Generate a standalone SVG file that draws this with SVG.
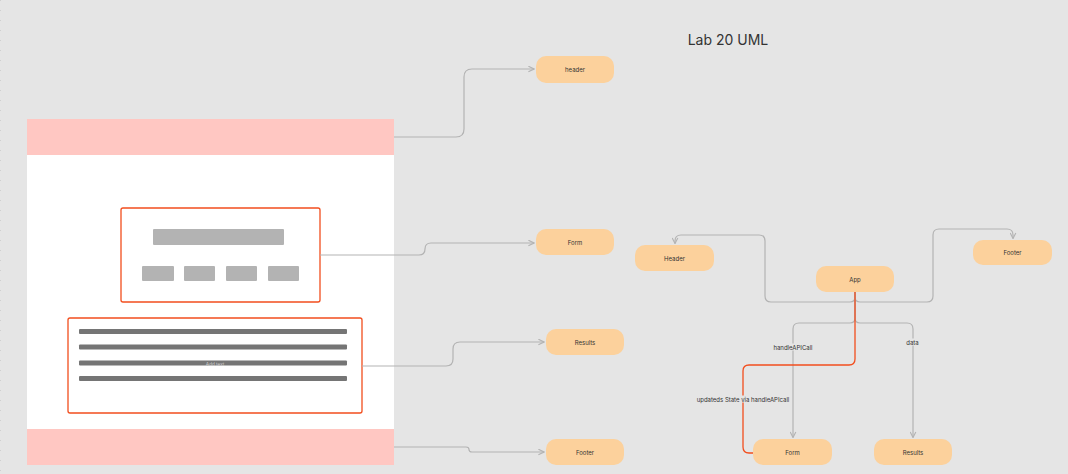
<svg xmlns="http://www.w3.org/2000/svg" width="1068" height="474" viewBox="0 0 1068 474">
<defs>
<style>
.node rect{fill:#fcd19c}
.node text{font-family:"Inter","Liberation Sans",sans-serif;font-size:6px;fill:#333;text-anchor:middle;dominant-baseline:central}
.conn{fill:none;stroke:#b3b3b3;stroke-width:1.2}
.red{fill:none;stroke:#f24e1e;stroke-width:1.3}
.box{fill:#fff;stroke:#f24e1e;stroke-width:1.3}
.lbl{font-family:"Inter","Liberation Sans",sans-serif;font-size:6px;fill:#333;text-anchor:middle;dominant-baseline:central}
.gb{fill:#b3b3b3}
.ln{fill:#757575}
</style>
<marker id="arr" viewBox="0 0 10 10" refX="9" refY="5" markerWidth="7" markerHeight="7" markerUnits="userSpaceOnUse" orient="auto">
<path d="M1,1 L9,5 L1,9" fill="none" stroke="#b3b3b3" stroke-width="1.6"/>
</marker>
</defs>
<rect width="1068" height="474" fill="#e5e5e5"/>
<line x1="0.5" y1="0" x2="0.5" y2="474" stroke="#d0d0d0" stroke-width="1" stroke-dasharray="1,9"/>
<text x="728" y="45" font-family="Inter,'Liberation Sans',sans-serif" font-size="14" fill="#333" text-anchor="middle">Lab 20 UML</text>

<g id="wireframe">
<rect x="27" y="119" width="367" height="346" fill="#fff"/>
<rect x="27" y="119" width="367" height="36" fill="#ffc7c2"/>
<rect x="27" y="429" width="367" height="36" fill="#ffc7c2"/>
<g id="form-box">
<rect class="box" x="121" y="208" width="199" height="94" rx="2"/>
<rect class="gb" x="153" y="229" width="131" height="16" rx="1"/>
<rect class="gb" x="142" y="266" width="32" height="15" rx="1"/>
<rect class="gb" x="184" y="266" width="31" height="15" rx="1"/>
<rect class="gb" x="226" y="266" width="31" height="15" rx="1"/>
<rect class="gb" x="268" y="266" width="31" height="15" rx="1"/>
</g>
<g id="results-box">
<rect class="box" x="68" y="318" width="294" height="95" rx="2"/>
<rect class="ln" x="79" y="329" width="268" height="5" rx="1"/>
<rect class="ln" x="79" y="344.5" width="268" height="5" rx="1"/>
<rect class="ln" x="79" y="360.5" width="268" height="5" rx="1"/>
<rect class="ln" x="79" y="376" width="268" height="5" rx="1"/>
<text x="215" y="366" font-family="'Liberation Sans',sans-serif" font-size="5" fill="#ccc" text-anchor="middle">Add text</text>
</g>
</g>

<g id="connectors">
<path class="conn" d="M394,137 H456 Q464,137 464,129 V77 Q464,69 472,69 H534" marker-end="url(#arr)"/>
<path class="conn" d="M320,255 H419 Q425,255 425,249 Q425,243 431,243 H534" marker-end="url(#arr)"/>
<path class="conn" d="M362,366 H446 Q453,366 453,359 V349 Q453,342 460,342 H544" marker-end="url(#arr)"/>
<path class="conn" d="M394,447 H466 Q469,447 469,449.5 Q469,452 472,452 H544" marker-end="url(#arr)"/>

<path class="conn" d="M855,292 V297 Q855,302 850,302 H771 Q765,302 765,296 V241 Q765,235 759,235 H681 Q675,235 675,241 V243.5" marker-end="url(#arr)"/>
<path class="conn" d="M855,292 V297 Q855,302 860,302 H927 Q933,302 933,296 V235 Q933,229 939,229 H1007 Q1013,229 1013,235 V238.5" marker-end="url(#arr)"/>
<path class="conn" d="M855,292 V318 Q855,323 850,323 H799 Q793,323 793,329 V437.5" marker-end="url(#arr)"/>
<path class="conn" d="M855,292 V318 Q855,323 860,323 H907 Q913,323 913,329 V437.5" marker-end="url(#arr)"/>
<path class="red" d="M855,292 V359 Q855,365 849,365 H749 Q743,365 743,371 V447 Q743,453 749,453 H753"/>
<rect x="774" y="343.5" width="38" height="7" fill="#e5e5e5"/>
<text class="lbl" x="793" y="347">handleAPICall</text>
<rect x="905" y="338.5" width="15" height="7" fill="#e5e5e5"/>
<text class="lbl" x="912.5" y="342">data</text>
<rect x="701" y="395.5" width="84" height="7" fill="#e5e5e5"/>
<text class="lbl" x="743" y="399">updateds State via handleAPIcall</text>
</g>

<g id="node-header-top" class="node"><rect x="536" y="56" width="78" height="27" rx="10"/><text x="575" y="69.5">header</text></g>
<g id="node-form-left" class="node"><rect x="536" y="229" width="78" height="26" rx="10"/><text x="575" y="242">Form</text></g>
<g id="node-results-left" class="node"><rect x="546" y="329" width="78" height="26" rx="10"/><text x="585" y="342">Results</text></g>
<g id="node-footer-left" class="node"><rect x="546" y="439" width="78" height="26" rx="10"/><text x="585" y="452">Footer</text></g>

<g id="node-header" class="node"><rect x="635" y="245" width="79" height="26" rx="10"/><text x="674.5" y="258">Header</text></g>
<g id="node-app" class="node"><rect x="816" y="266" width="78" height="26" rx="10"/><text x="855" y="279">App</text></g>
<g id="node-footer" class="node"><rect x="973" y="240" width="79" height="25" rx="10"/><text x="1012.5" y="252.5">Footer</text></g>
<g id="node-form" class="node"><rect x="753" y="439" width="79" height="26" rx="10"/><text x="792.5" y="452">Form</text></g>
<g id="node-results" class="node"><rect x="874" y="439" width="78" height="26" rx="10"/><text x="913" y="452">Results</text></g>
</svg>
